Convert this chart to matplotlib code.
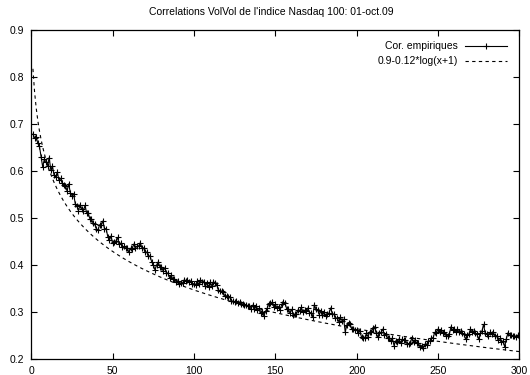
import numpy as np
import matplotlib
matplotlib.use("Agg")
import matplotlib.pyplot as plt
from matplotlib.lines import Line2D

plt.rcParams['font.family'] = ['Liberation Sans', 'DejaVu Sans']

title = "Correlations VolVol de l'indice Nasdaq 100: 01-oct.09"
label_emp = "Cor. empiriques"
label_fit = "0.9-0.12*log(x+1)"

lags = np.arange(1, 301)
corr_emp = [
    0.678, 0.670, 0.672, 0.658, 0.652, 0.630, 0.608, 0.624, 0.619, 0.611,
    0.628, 0.601, 0.610, 0.590, 0.587, 0.597, 0.580, 0.584, 0.573, 0.570,
    0.568, 0.557, 0.572, 0.553, 0.547, 0.551, 0.530, 0.525, 0.515, 0.528,
    0.519, 0.514, 0.526, 0.511, 0.509, 0.498, 0.497, 0.488, 0.486, 0.476,
    0.474, 0.485, 0.484, 0.493, 0.476, 0.477, 0.460, 0.452, 0.461, 0.446,
    0.449, 0.450, 0.458, 0.444, 0.446, 0.437, 0.439, 0.435, 0.436, 0.426,
    0.435, 0.434, 0.444, 0.436, 0.439, 0.440, 0.447, 0.436, 0.436, 0.426,
    0.427, 0.418, 0.419, 0.406, 0.400, 0.389, 0.399, 0.406, 0.396, 0.396,
    0.387, 0.393, 0.383, 0.382, 0.372, 0.378, 0.369, 0.370, 0.364, 0.366,
    0.359, 0.362, 0.361, 0.368, 0.366, 0.367, 0.364, 0.365, 0.358, 0.360,
    0.357, 0.365, 0.358, 0.368, 0.364, 0.364, 0.354, 0.361, 0.353, 0.363,
    0.355, 0.364, 0.361, 0.357, 0.346, 0.345, 0.343, 0.341, 0.333, 0.334,
    0.331, 0.331, 0.322, 0.323, 0.320, 0.322, 0.319, 0.320, 0.316, 0.317,
    0.314, 0.315, 0.313, 0.313, 0.306, 0.314, 0.305, 0.312, 0.303, 0.307,
    0.298, 0.299, 0.291, 0.301, 0.307, 0.317, 0.319, 0.320, 0.311, 0.316,
    0.308, 0.311, 0.304, 0.316, 0.320, 0.318, 0.306, 0.306, 0.297, 0.305,
    0.294, 0.295, 0.295, 0.304, 0.302, 0.309, 0.300, 0.303, 0.301, 0.308,
    0.298, 0.298, 0.288, 0.315, 0.305, 0.304, 0.294, 0.301, 0.292, 0.299,
    0.291, 0.295, 0.297, 0.308, 0.296, 0.295, 0.286, 0.287, 0.279, 0.288,
    0.281, 0.284, 0.257, 0.272, 0.277, 0.274, 0.263, 0.263, 0.261, 0.262,
    0.255, 0.259, 0.246, 0.245, 0.244, 0.254, 0.247, 0.257, 0.256, 0.265,
    0.268, 0.254, 0.246, 0.255, 0.256, 0.263, 0.251, 0.253, 0.244, 0.245,
    0.237, 0.243, 0.228, 0.238, 0.235, 0.242, 0.234, 0.241, 0.240, 0.240,
    0.231, 0.231, 0.233, 0.245, 0.236, 0.239, 0.233, 0.233, 0.225, 0.228,
    0.222, 0.231, 0.230, 0.238, 0.237, 0.245, 0.244, 0.256, 0.255, 0.263,
    0.256, 0.262, 0.254, 0.256, 0.248, 0.249, 0.252, 0.268, 0.261, 0.264,
    0.257, 0.263, 0.256, 0.259, 0.254, 0.252, 0.241, 0.251, 0.252, 0.263,
    0.256, 0.259, 0.254, 0.252, 0.241, 0.254, 0.258, 0.273, 0.255, 0.252,
    0.249, 0.256, 0.253, 0.257, 0.248, 0.249, 0.240, 0.243, 0.235, 0.238,
    0.225, 0.242, 0.255, 0.250, 0.251, 0.248, 0.248, 0.246, 0.250, 0.248,
]

x_ticks = [0, 50, 100, 150, 200, 250, 300]
y_ticks = [0.2, 0.3, 0.4, 0.5, 0.6, 0.7, 0.8, 0.9]

# fitted curve evaluated at the same lags as the empirical series
y_fit = 0.9 - 0.12 * np.log(lags + 1)

fig = plt.figure(figsize=(5.3, 3.75), dpi=100)
ax = fig.add_axes([31.3 / 530, 1 - 358.7 / 375, 488 / 530, 329 / 375])

ax.plot(lags, corr_emp, color='black', lw=0.8, marker='+', ms=5,
        mew=0.8, zorder=3)
ax.plot(lags, y_fit, color='black', lw=0.8, ls=(0, (3, 3)), zorder=2)

ax.set_xlim(0, 300)
ax.set_ylim(0.2, 0.9)
ax.set_xticks(x_ticks)
ax.set_xticklabels([str(t) for t in x_ticks])
ax.set_yticks(y_ticks)
ax.set_yticklabels([f"{t:.1f}" for t in y_ticks])
ax.tick_params(direction='in', length=4, width=0.8, top=True, right=True,
               labelsize=7.5, pad=5)
for s in ax.spines.values():
    s.set_linewidth(0.9)

# key in the upper right, text right-aligned before each sample
key_x_text = 0.874
key_x0, key_x1 = 0.888, 0.975
for yk, lbl, dashed in [(0.950, label_emp, False),
                        (0.904, label_fit, True)]:
    ax.text(key_x_text, yk, lbl, transform=ax.transAxes, ha='right',
            va='center', fontsize=7.5)
    ax.add_line(Line2D([key_x0, key_x1], [yk, yk], transform=ax.transAxes,
                       color='black', lw=0.8,
                       ls=(0, (3, 3)) if dashed else '-'))
    if not dashed:
        ax.add_line(Line2D([(key_x0 + key_x1) / 2], [yk],
                           transform=ax.transAxes, color='black',
                           marker='+', ms=5, mew=0.8, ls='none'))

fig.text(271 / 530, 1 - 12 / 375, title, ha='center', va='center',
         fontsize=7.5)

fig.savefig("out.png", dpi=100)
